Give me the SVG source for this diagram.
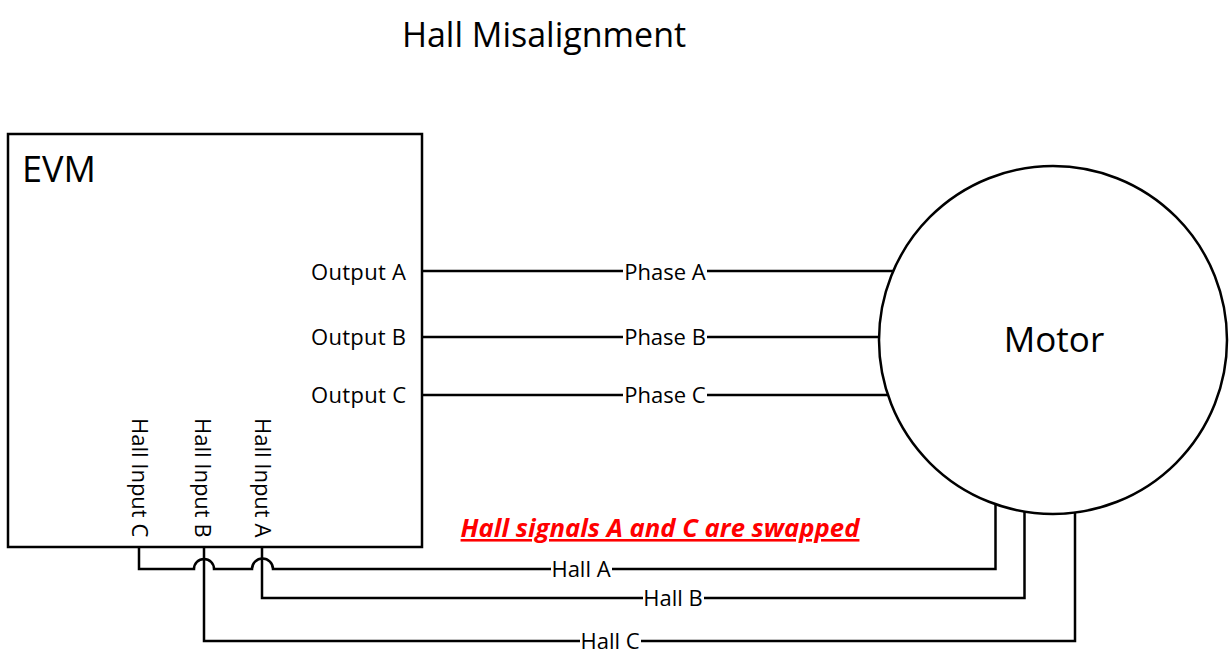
<svg xmlns="http://www.w3.org/2000/svg" width="1230" height="669" viewBox="0 0 1230 669">
<style>
text{font-family:"Open Sans","Noto Sans",sans-serif;fill:#000}
.s{fill:none;stroke:#000;stroke-width:2.5}
.n{fill:#fff;stroke:#000;stroke-width:2.5}
.l{font-size:22px}
.m{text-anchor:middle}
.e{text-anchor:end}
.bg{fill:#fff;stroke:none}
</style>
<rect width="1230" height="669" fill="#fff"/>
<text id="title" x="544" y="47" font-size="34" class="m">Hall Misalignment</text>
<g id="connectors">
<path class="s" d="M422 271H893M422 337H879M422 395H888"/>
<path class="s" d="M995.500 504V569H273A10 10 0 0 0 252 569H214A10 10 0 0 0 194 569H139V547"/>
<path class="s" d="M1024.500 511V598H262V547"/>
<path class="s" d="M1075 513V641H204V547"/>
<rect class="bg" x="623" y="260" width="84" height="24"/>
<rect class="bg" x="623" y="326" width="84" height="24"/>
<rect class="bg" x="623" y="384" width="84" height="24"/>
<rect class="bg" x="551" y="558" width="61" height="22"/>
<rect class="bg" x="643" y="587" width="61" height="22"/>
<rect class="bg" x="580" y="630" width="61" height="22"/>
<text class="l m" x="665" y="279.500">Phase A</text>
<text class="l m" x="665" y="345">Phase B</text>
<text class="l m" x="665" y="403">Phase C</text>
<text class="l m" x="581" y="576.500">Hall A</text>
<text class="l m" x="673" y="605.500">Hall B</text>
<text class="l m" x="610" y="649">Hall C</text>
</g>
<g id="evm">
<rect class="n" x="8" y="134" width="414" height="413"/>
<text x="22" y="182" font-size="36">EVM</text>
<text class="l e" textLength="95" x="406" y="279.500">Output A</text>
<text class="l e" textLength="95" x="406" y="345">Output B</text>
<text class="l e" textLength="95" x="406" y="403">Output C</text>
<text class="l" transform="translate(132 418) rotate(90)">Hall Input C</text>
<text class="l" transform="translate(195 418) rotate(90)">Hall Input B</text>
<text class="l" transform="translate(255 418) rotate(90)">Hall Input A</text>
</g>
<g id="motor">
<circle class="n" cx="1053" cy="340" r="174"/>
<text x="1054" y="352" font-size="35" class="m">Motor</text>
</g>
<text id="note" x="660" y="537" font-size="25.700" font-weight="700" font-style="italic" text-decoration="underline" class="m" style="fill:#f00">Hall signals A and C are swapped</text>
</svg>
